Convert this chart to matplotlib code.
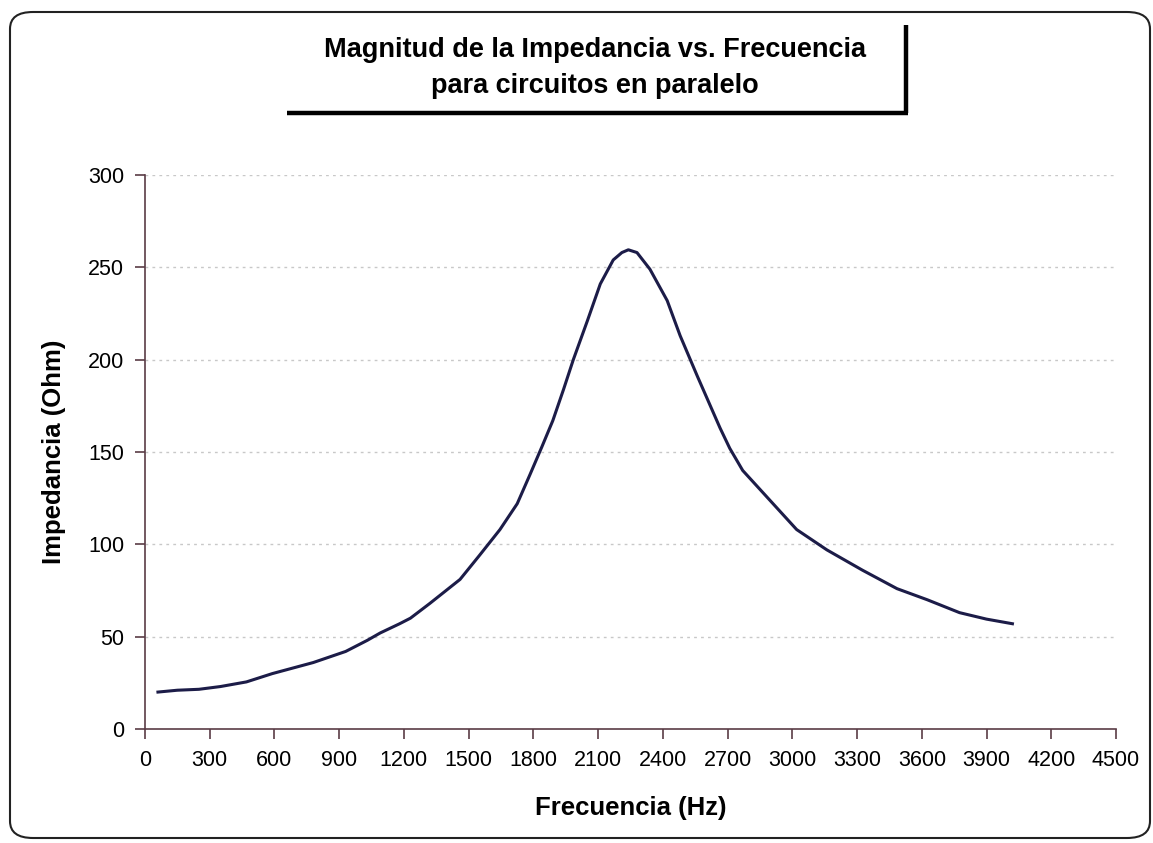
import matplotlib.pyplot as plt
from matplotlib.patches import FancyBboxPatch
from matplotlib.lines import Line2D

# --- Data ---
frecuencia = [60, 150, 250, 350, 470, 590, 780, 930, 1030, 1090, 1180, 1230,
              1320, 1460, 1550, 1645, 1725, 1785, 1840, 1890, 1940, 1985, 2050,
              2110, 2170, 2210, 2240, 2280, 2340, 2420, 2480, 2560, 2620, 2665,
              2710, 2770, 2895, 3020, 3160, 3325, 3485, 3625, 3775, 3900, 4020]
impedancia = [20, 21, 21.5, 23, 25.5, 30, 36, 42, 48, 52, 57, 60,
              68, 81, 94, 108, 122, 138, 153, 167, 184, 200, 221,
              241, 254, 258, 259.5, 258, 249, 232, 213, 191, 175, 163,
              152, 140, 124, 108, 97, 86, 76, 70, 63, 59.5, 57]
xticks = list(range(0, 4501, 300))
yticks = list(range(0, 301, 50))

plt.rcParams['font.family'] = ['Liberation Sans', 'DejaVu Sans']

# --- Plot ---
fig = plt.figure(figsize=(11.53, 8.43), dpi=100)
ax = fig.add_axes([145 / 1153, 1 - 729 / 843, (1116 - 145) / 1153, (729 - 175) / 843])

ax.plot(frecuencia, impedancia, color="#1c1c48", linewidth=2.2)

ax.set_xlim(0, 4500)
ax.set_ylim(0, 300)
ax.set_xticks(xticks)
ax.set_yticks(yticks)
ax.tick_params(labelsize=15.5, length=7, width=1.2, color="#5a3c46", pad=8)
for y in yticks[1:]:
    ax.axhline(y, color="#c8c8c8", linestyle=(0, (2, 3)), linewidth=1.0, zorder=0)

for s in ['top', 'right']:
    ax.spines[s].set_visible(False)
for s in ['left', 'bottom']:
    ax.spines[s].set_color("#5a3c46")
    ax.spines[s].set_linewidth(1.2)

ax.set_xlabel("Frecuencia (Hz)", fontsize=18.5, fontweight='bold', labelpad=18)
ax.set_ylabel("Impedancia (Ohm)", fontsize=18.5, fontweight='bold', labelpad=16)

# Titulo con sombra
fig.text(595 / 1153, 1 - 50 / 843, "Magnitud de la Impedancia vs. Frecuencia",
         ha='center', va='center', fontsize=19.5, fontweight='bold')
fig.text(595 / 1153, 1 - 86 / 843, "para circuitos en paralelo",
         ha='center', va='center', fontsize=19.5, fontweight='bold')
fig.add_artist(Line2D([906 / 1153, 906 / 1153], [1 - 25 / 843, 1 - 113 / 843],
                      color='black', linewidth=3.2, solid_capstyle='butt'))
fig.add_artist(Line2D([287 / 1153, 907.5 / 1153], [1 - 113 / 843, 1 - 113 / 843],
                      color='black', linewidth=3.2, solid_capstyle='butt'))

# Borde exterior redondeado
border = FancyBboxPatch((10 / 1153, 1 - 838 / 843), (1150 - 10) / 1153, (838 - 12) / 843,
                        boxstyle="round,pad=0,rounding_size=0.02",
                        transform=fig.transFigure, fill=False,
                        edgecolor="#222222", linewidth=1.5)
fig.add_artist(border)

# --- Render ---
fig.savefig("out.png", dpi=100)
plt.close()
